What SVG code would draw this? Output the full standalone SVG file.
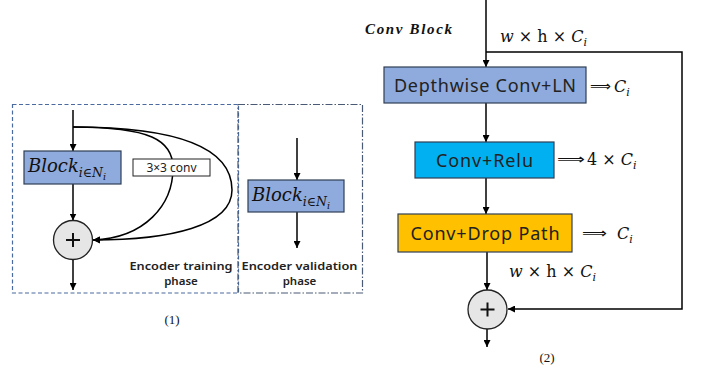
<svg xmlns="http://www.w3.org/2000/svg" width="702" height="373" viewBox="0 0 702 373">
<defs>
<marker id="ah" viewBox="0 0 10 10" refX="10" refY="5" markerWidth="7" markerHeight="7" markerUnits="userSpaceOnUse" orient="auto">
<path d="M0,0 L10,5 L0,10 z" fill="#000"/>
</marker>
</defs>
<style>
.ln{fill:none;stroke:#000;stroke-width:1.5;marker-end:url(#ah)}
.box{stroke:#2f3f55;stroke-width:1.2}
.sans{font-family:"Noto Sans","Liberation Sans",sans-serif;fill:#222}
.lbl{font-family:"Noto Sans","Liberation Sans",sans-serif;font-weight:600;font-size:11.5px;fill:#222;text-anchor:middle}
.math{font-family:"DejaVu Serif","Liberation Serif",serif;fill:#111}
.it{font-style:italic}
.plus{stroke:#111;stroke-width:2}
.circ{fill:#e6e6e6;stroke:#222;stroke-width:1.3}
</style>
<rect width="702" height="373" fill="#fff"/>

<!-- borders -->
<g id="frame">
<rect x="12.5" y="104.5" width="226" height="188.5" fill="none" stroke="#4a6aa0" stroke-width="1.2" stroke-dasharray="4,2.5"/>
<rect x="238" y="104.5" width="124.5" height="188.5" fill="none" stroke="#4a5a75" stroke-width="1.2" stroke-dasharray="7,2,1.5,2"/>
</g>

<!-- connectors -->
<g id="connectors">
<line class="ln" x1="73" y1="110" x2="73" y2="151"/>
<line class="ln" x1="73" y1="184" x2="73" y2="220.5"/>
<line class="ln" x1="73" y1="259.5" x2="73" y2="290"/>
<path class="ln" d="M73,127 C150,127 173,140 173,168 C173,205 145,238 93,240"/>
<path class="ln" d="M73,127 C205,127 232,160 232,190 C232,226 170,240 93,240"/>
<line class="ln" x1="297" y1="138" x2="297" y2="180"/>
<line class="ln" x1="297" y1="212" x2="297" y2="248"/>

<line class="ln" x1="486" y1="0" x2="486" y2="67"/>
<polyline class="ln" points="486,52 682,52 682,309 508,309"/>
<line class="ln" x1="486" y1="103" x2="486" y2="142"/>
<line class="ln" x1="486" y1="178" x2="486" y2="214"/>
<line class="ln" x1="487" y1="252" x2="487" y2="290"/>
<line class="ln" x1="487" y1="329" x2="487" y2="347"/>
</g>

<!-- left diagram nodes -->
<g id="block-train">
<rect class="box" x="24" y="151" width="97" height="33" fill="#8faadc"/>
<text class="math it" x="28" y="172" font-size="18">Block<tspan font-size="12.5" dy="5">i∈N</tspan><tspan font-size="9.5" dy="3">i</tspan></text>
</g>
<g id="conv3x3">
<rect x="133" y="159" width="77" height="17" fill="#fff" stroke="#222" stroke-width="1"/>
<text class="sans" x="171.5" y="172" font-size="12" text-anchor="middle">3×3 conv</text>
</g>
<g id="add-train">
<circle class="circ" cx="73" cy="240" r="19.5"/>
<line class="plus" x1="66" y1="240" x2="80" y2="240"/>
<line class="plus" x1="73" y1="233" x2="73" y2="247"/>
</g>
<g id="label-train">
<text class="lbl" x="181" y="270" textLength="103" lengthAdjust="spacingAndGlyphs">Encoder training</text>
<text class="lbl" x="181" y="285">phase</text>
</g>
<g id="block-val">
<rect class="box" x="248" y="180" width="96" height="32" fill="#8faadc"/>
<text class="math it" x="252" y="201" font-size="18">Block<tspan font-size="12.5" dy="5">i∈N</tspan><tspan font-size="9.5" dy="3">i</tspan></text>
</g>
<g id="label-val">
<text class="lbl" x="299.5" y="270" textLength="116" lengthAdjust="spacingAndGlyphs">Encoder validation</text>
<text class="lbl" x="299.5" y="285">phase</text>
</g>
<text x="172" y="324" font-family="Liberation Serif,serif" font-size="13" text-anchor="middle" fill="#111">(1)</text>

<!-- right diagram -->
<text x="365" y="34" font-family="Liberation Serif,serif" font-weight="bold" font-style="italic" font-size="15" fill="#111" textLength="87">Conv Block</text>
<text class="math" x="500" y="42" font-size="16"><tspan class="it">w</tspan> × h × <tspan class="it">C</tspan><tspan class="it" font-size="11" dy="4">i</tspan></text>

<g id="depthwise">
<rect class="box" x="384" y="67" width="202" height="36" fill="#8faadc"/>
<text class="sans" x="485" y="92" font-size="18" text-anchor="middle" textLength="182">Depthwise Conv+LN</text>
</g>
<g id="dim1">
<text x="590" y="91" font-family="DejaVu Sans,sans-serif" font-size="14" fill="#111" textLength="21" lengthAdjust="spacingAndGlyphs">⟹</text>
<text class="math it" x="614" y="92" font-size="16">C<tspan font-size="11" dy="4">i</tspan></text>
</g>

<g id="conv-relu">
<rect class="box" x="415" y="142" width="139" height="36" fill="#00b0f0"/>
<text class="sans" x="484.5" y="167" font-size="18" text-anchor="middle" textLength="97">Conv+Relu</text>
</g>
<g id="dim2">
<text x="557" y="164" font-family="DejaVu Sans,sans-serif" font-size="14" fill="#111" textLength="28" lengthAdjust="spacingAndGlyphs">⟹</text>
<text class="math" x="587" y="165" font-size="16">4 × <tspan class="it">C</tspan><tspan class="it" font-size="11" dy="4">i</tspan></text>
</g>

<g id="conv-drop">
<rect class="box" x="398" y="214" width="174" height="38" fill="#ffc000"/>
<text class="sans" x="485" y="240" font-size="18" text-anchor="middle" textLength="149">Conv+Drop Path</text>
</g>
<g id="dim3">
<text x="582" y="238" font-family="DejaVu Sans,sans-serif" font-size="14" fill="#111" textLength="25" lengthAdjust="spacingAndGlyphs">⟹</text>
<text class="math it" x="617" y="239" font-size="16">C<tspan font-size="11" dy="4">i</tspan></text>
</g>

<text class="math" x="509" y="277" font-size="16"><tspan class="it">w</tspan> × h × <tspan class="it">C</tspan><tspan class="it" font-size="11" dy="4">i</tspan></text>

<g id="add-conv">
<circle class="circ" cx="487.5" cy="309.5" r="19.5"/>
<line class="plus" x1="480.5" y1="309.5" x2="494.5" y2="309.5"/>
<line class="plus" x1="487.5" y1="302.5" x2="487.5" y2="316.5"/>
</g>
<text x="547" y="362" font-family="Liberation Serif,serif" font-size="13" text-anchor="middle" fill="#111">(2)</text>
</svg>
